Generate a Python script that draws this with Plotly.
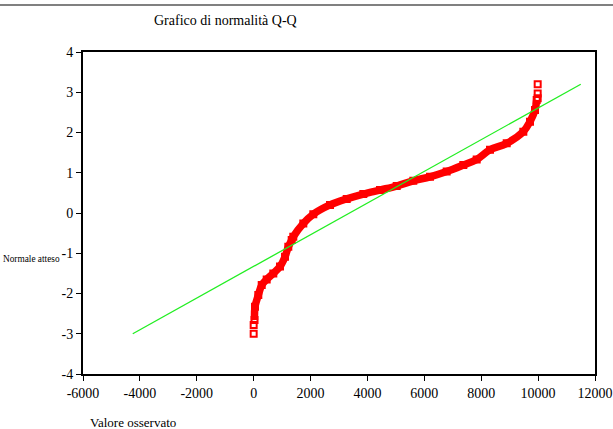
import plotly.graph_objects as go

obs_x = [0, 0, 30, 47, 163, 283, 458, 690, 926, 1102, 1218, 1337, 1393, 1745, 2097,
         2684, 3271, 3855, 4441, 5029, 5612, 6199, 6786, 7370, 7841, 8309, 8896,
         9480, 9715, 9891, 9950, 9985, 9985, 9985]
exp_y = [-3.00, -2.78, -2.66, -2.33, -2.04, -1.79, -1.65, -1.50, -1.33, -1.09, -0.84,
         -0.67, -0.59, -0.26, -0.03, 0.20, 0.35, 0.47, 0.57, 0.67, 0.80, 0.90, 1.03,
         1.19, 1.33, 1.57, 1.73, 2.02, 2.27, 2.56, 2.81, 2.85, 2.97, 3.20]

# Reference normal line endpoints
line_x = [-4250, 11500]
line_y = [-3.0, 3.2]

x_ticks = [-6000, -4000, -2000, 0, 2000, 4000, 6000, 8000, 10000, 12000]
x_ticklabels = ["-6000", "-4000", "-2000", "0", "2000", "4000", "6000", "8000", "10000", "12000"]
y_ticks = [-4, -3, -2, -1, 0, 1, 2, 3, 4]
y_ticklabels = ["-4", "-3", "-2", "-1", "0", "1", "2", "3", "4"]

title_text = "Grafico di normalità Q-Q"
x_title = "Valore osservato"
y_title = "Normale atteso"

L, R, T, B = 83, 18, 52, 55
W, H = 613, 429
pw, ph = W - L - R, H - T - B

serif = "Liberation Serif"

fig = go.Figure()
# dense band (continuous run of overlapping points)
band_x = obs_x[2:31]
band_y = exp_y[2:31]
fig.add_trace(go.Scatter(x=band_x, y=band_y, mode="lines",
                         line=dict(color="#ff0000", width=7.5, shape="spline"),
                         hoverinfo="skip", showlegend=False))
fig.add_trace(go.Scatter(x=obs_x, y=exp_y, mode="markers",
                         marker=dict(symbol="square-open", size=6, color="#ff0000",
                                     line=dict(width=2, color="#ff0000")),
                         showlegend=False))
fig.add_trace(go.Scatter(x=line_x, y=line_y, mode="lines",
                         line=dict(color="#22ee22", width=1.3), showlegend=False))

axis_common = dict(showgrid=False, zeroline=False, showline=True, linecolor="black",
                   linewidth=2, mirror=True, ticks="outside", ticklen=5,
                   tickcolor="black", tickwidth=1, automargin=False,
                   tickfont=dict(family=serif, size=14, color="black"))

fig.update_layout(
    template="none",
    width=W, height=H, autosize=False,
    margin=dict(l=L, r=R, t=T, b=B, pad=0),
    paper_bgcolor="white", plot_bgcolor="white",
    font=dict(family=serif, color="black"),
    xaxis=dict(range=[-6000, 12000], tickvals=x_ticks, ticktext=x_ticklabels, **axis_common),
    yaxis=dict(range=[-4, 4], tickvals=y_ticks, ticktext=y_ticklabels, **axis_common),
    shapes=[dict(type="line", xref="paper", yref="paper",
                 x0=-L / pw, x1=1 + R / pw,
                 y0=(ph + T - 5) / ph, y1=(ph + T - 5) / ph,
                 line=dict(color="#808080", width=2))],
    annotations=[
        dict(text=title_text, xref="paper", yref="paper",
             x=(152 - L) / pw, y=(ph + T - 20) / ph, xanchor="left", yanchor="middle",
             showarrow=False, font=dict(family=serif, size=14, color="black")),
        dict(text=y_title, xref="paper", yref="paper",
             x=(1 - L) / pw, y=(ph + T - 259) / ph, xanchor="left", yanchor="middle",
             showarrow=False, font=dict(family=serif, size=9.3, color="black")),
        dict(text=x_title, xref="paper", yref="paper",
             x=(88 - L) / pw, y=(ph + T - 422) / ph, xanchor="left", yanchor="middle",
             showarrow=False, font=dict(family=serif, size=13, color="black")),
    ],
)

fig.write_html(
    "out.html",
    config={"responsive": False, "displayModeBar": False},
    post_script="document.documentElement.style.overflow='hidden';"
                "document.body.style.overflow='hidden';document.body.style.margin='0';",
)
